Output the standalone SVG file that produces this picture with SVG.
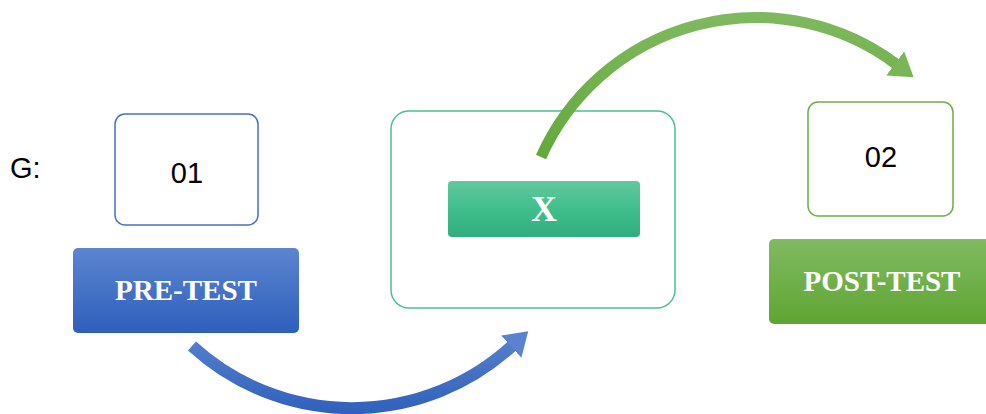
<svg xmlns="http://www.w3.org/2000/svg" width="986" height="414" viewBox="0 0 986 414">
  <style>
    .num { font-family: "Liberation Sans", Arial, sans-serif; font-size: 29px; fill: #000; text-anchor: middle; }
    .label { font-family: "Liberation Serif", "Times New Roman", serif; font-weight: bold; fill: #fff; text-anchor: middle; }
    .frame { fill: #fff; stroke-width: 1.5; }
  </style>
  <defs>
    <linearGradient id="gBlue" x1="0" y1="0" x2="0" y2="1">
      <stop offset="0" stop-color="#5c85d1"/>
      <stop offset="1" stop-color="#2e5fbb"/>
    </linearGradient>
    <linearGradient id="gTeal" x1="0" y1="0" x2="0" y2="1">
      <stop offset="0" stop-color="#63c89e"/>
      <stop offset="0.5" stop-color="#40bf8c"/>
      <stop offset="1" stop-color="#2fae7c"/>
    </linearGradient>
    <linearGradient id="gGreen" x1="0" y1="0" x2="0" y2="1">
      <stop offset="0" stop-color="#81ba61"/>
      <stop offset="1" stop-color="#5fa532"/>
    </linearGradient>
    <linearGradient id="gArcBlue" gradientUnits="userSpaceOnUse" x1="0" y1="330" x2="0" y2="414">
      <stop offset="0" stop-color="#5a83cf"/>
      <stop offset="1" stop-color="#2f60bc"/>
    </linearGradient>
    <linearGradient id="gArcGreen" gradientUnits="userSpaceOnUse" x1="0" y1="12" x2="0" y2="160">
      <stop offset="0" stop-color="#80b960"/>
      <stop offset="1" stop-color="#63a83a"/>
    </linearGradient>
    <marker id="headBlue" markerUnits="userSpaceOnUse" viewBox="0 0 23 30" markerWidth="23" markerHeight="30" refX="1" refY="15" orient="auto">
      <path d="M0,0 L23,15 L0,30 Z" fill="#5a82cf"/>
    </marker>
    <marker id="headGreen" markerUnits="userSpaceOnUse" viewBox="0 0 23 30" markerWidth="23" markerHeight="30" refX="1" refY="15" orient="auto">
      <path d="M0,0 L23,15 L0,30 Z" fill="#7ab657"/>
    </marker>
  </defs>

  <text class="num" x="10" y="178" style="text-anchor:start" font-size="28">G:</text>

  <g id="node-01">
    <rect class="frame" x="115" y="114" width="143" height="111" rx="10" stroke="#4472c4"/>
    <text class="num" x="187" y="183">01</text>
  </g>

  <g id="node-pretest">
    <rect x="73" y="248" width="226" height="85" rx="5" fill="url(#gBlue)"/>
    <text class="label" x="186" y="300" font-size="29">PRE-TEST</text>
  </g>

  <g id="node-treatment">
    <rect class="frame" x="391" y="111" width="284" height="197" rx="18" stroke="#4cc092"/>
    <rect x="448" y="181" width="192" height="56" rx="4" fill="url(#gTeal)"/>
    <text class="label" x="544" y="221" font-size="36">X</text>
  </g>

  <g id="node-02">
    <rect class="frame" x="808" y="102" width="145" height="114" rx="10" stroke="#70ad47"/>
    <text class="num" x="881" y="167">02</text>
  </g>

  <g id="node-posttest">
    <rect x="769" y="239" width="222" height="85" rx="5" fill="url(#gGreen)"/>
    <text class="label" x="882" y="291" font-size="29">POST-TEST</text>
  </g>

  <g id="connectors" fill="none">
    <path d="M192,346 A237,237 0 0 0 512,346" stroke="url(#gArcBlue)" stroke-width="12" marker-end="url(#headBlue)"/>
    <path d="M541,157 A235,235 0 0 1 896,64" stroke="url(#gArcGreen)" stroke-width="11" marker-end="url(#headGreen)"/>
  </g>
</svg>
